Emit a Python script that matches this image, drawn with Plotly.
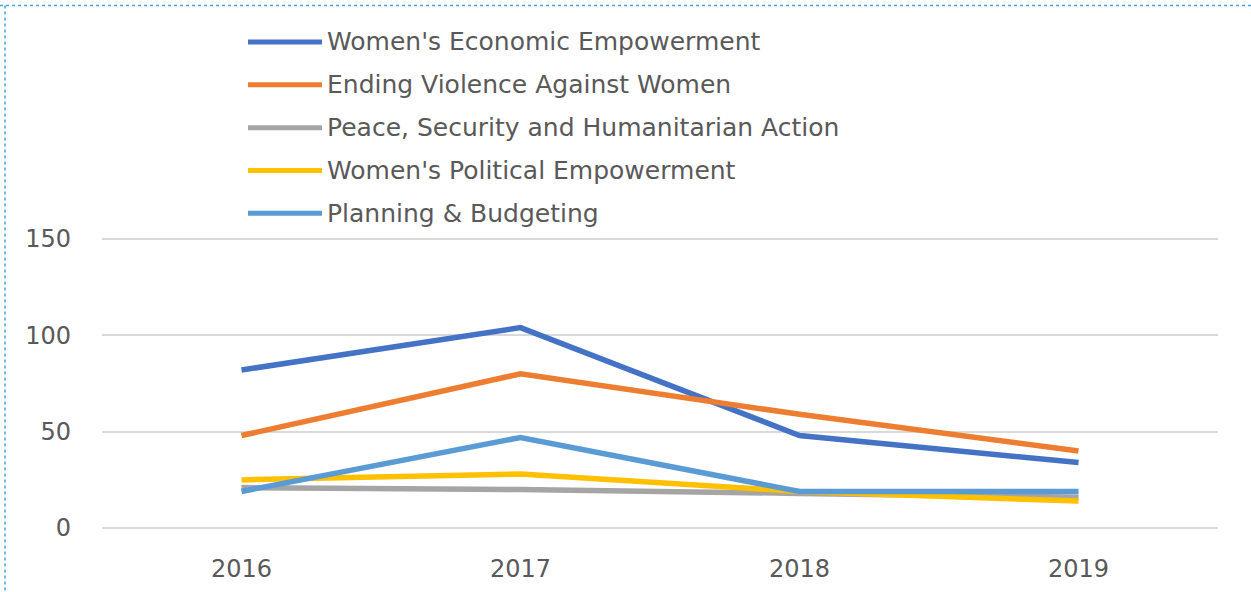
import plotly.graph_objects as go

# Number of projects per thematic area, 2016-2019
years = ["2016", "2017", "2018", "2019"]
series_names = [
    "Women's Economic Empowerment",
    "Ending Violence Against Women",
    "Peace, Security and Humanitarian Action",
    "Women's Political Empowerment",
    "Planning & Budgeting",
]
economic_empowerment = [82, 104, 48, 34]
ending_violence = [48, 80, 59, 40]
peace_security = [21, 20, 18, 16]
political_empowerment = [25, 28, 19, 14]
planning_budgeting = [19, 47, 19, 19]
series_values = [
    economic_empowerment,
    ending_violence,
    peace_security,
    political_empowerment,
    planning_budgeting,
]
series_colors = ["#4472C4", "#ED7D31", "#A5A5A5", "#FFC000", "#5B9BD5"]
y_ticks = [0, 50, 100, 150]
y_range = [-1, 151]

W, H = 1251, 592
L, R = 102, 33
T, B = 237.4, 61.8
plot_w = W - L - R
plot_h = H - T - B
font_family = "'DejaVu Sans', Verdana, sans-serif"
text_color = "#595959"


def px_x(px):
    return (px - L) / plot_w


def px_y(py):
    return (H - B - py) / plot_h


fig = go.Figure()
for name, vals, col in zip(series_names, series_values, series_colors):
    fig.add_trace(go.Scatter(
        x=years, y=vals, name=name, mode="lines",
        line=dict(color=col, width=5.5),
        showlegend=False,
    ))

# Legend drawn as line samples with labels above the plot area
shapes = []
annotations = []
row_top, row_gap = 42.5, 42.8
for i, (name, col) in enumerate(zip(series_names, series_colors)):
    yy = px_y(row_top + i * row_gap)
    shapes.append(dict(type="line", xref="paper", yref="paper",
                       x0=px_x(248), x1=px_x(322), y0=yy, y1=yy,
                       line=dict(color=col, width=5)))
    annotations.append(dict(xref="paper", yref="paper", x=px_x(325), y=yy,
                            text=name, showarrow=False, xanchor="left",
                            yanchor="middle",
                            font=dict(size=25, color=text_color, family=font_family)))

# Dotted frame along the top and left edges
frame = dict(color="#3AA8DE", width=1.5, dash="dot")
shapes.append(dict(type="line", xref="paper", yref="paper",
                   x0=px_x(0), x1=px_x(W), y0=px_y(6), y1=px_y(6), line=frame))
shapes.append(dict(type="line", xref="paper", yref="paper",
                   x0=px_x(5), x1=px_x(5), y0=px_y(6), y1=px_y(H), line=frame))

fig.update_layout(
    width=W, height=H,
    margin=dict(l=L, r=R, t=T, b=B, pad=0, autoexpand=False),
    paper_bgcolor="white", plot_bgcolor="white",
    font=dict(family=font_family, color=text_color, size=24),
    shapes=shapes, annotations=annotations,
    showlegend=False,
)
fig.update_xaxes(
    type="category", range=[-0.5, len(years) - 0.5],
    showgrid=False, zeroline=False, showline=False, automargin=False,
    ticks="", ticklabelstandoff=22,
    tickfont=dict(size=24, color=text_color),
)
fig.update_yaxes(
    range=y_range, tickvals=y_ticks, showgrid=True, gridcolor="#D9D9D9",
    gridwidth=1.5, zeroline=False, showline=False, ticks="", automargin=False,
    ticklabelstandoff=30, tickfont=dict(size=24, color=text_color),
)

fig.write_html("out.html", config={"displayModeBar": False})
